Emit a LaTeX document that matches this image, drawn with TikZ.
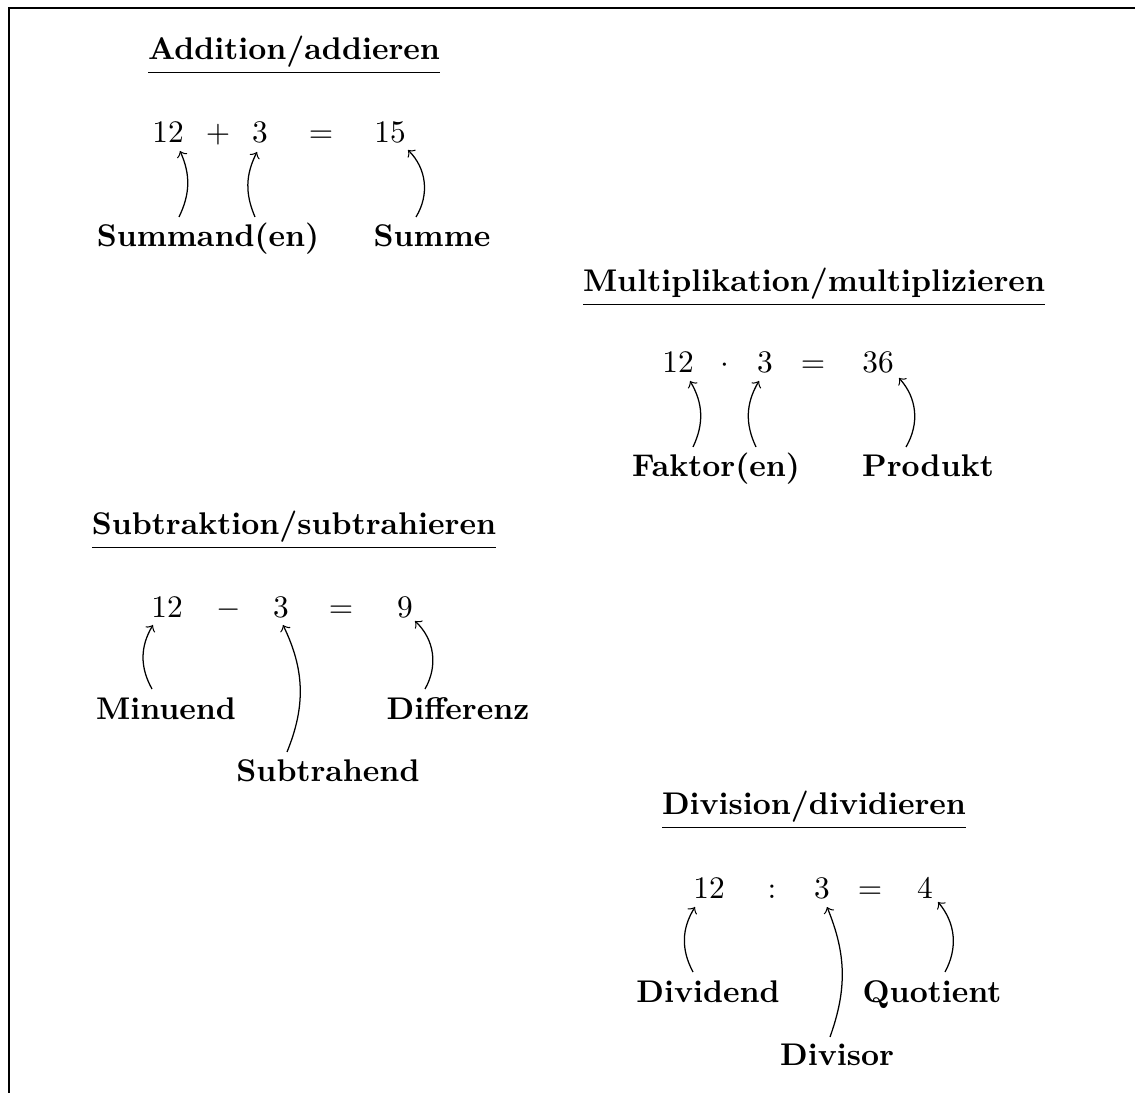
\documentclass[tikz,border=0pt]{standalone}
\usepackage{amsmath}
\usetikzlibrary{calc}
\begin{document}
\begin{tikzpicture}[x=0.319pt,y=-0.319pt,every node/.style={anchor=base},
  lab/.style={font=\bfseries},head/.style={font=\bfseries}]
  \useasboundingbox (0,0) rectangle (1135,1093);
  \draw (9,1093)--(9,8)--(1135,8);
  % Addition
  \node[head] (ta) at (294,60) {\underline{Addition/addieren}};
  \node (a1) at (168,143) {$12$};
  \node (ap) at (218,143) {$+$};
  \node (a2) at (260,143) {$3$};
  \node (ae) at (321,143) {$=$};
  \node (a3) at (390,143) {$15$};
  \node[lab] (sa) at (208,247) {Summand(en)};
  \node[lab] (ra) at (432,247) {Summe};
  \draw[->] ($(sa.base)+(-29,-30)$) to[bend right=25] ($(a1.base)+(12,8)$);
  \draw[->] ($(sa.base)+(47,-30)$) to[bend left=25] ($(a2.base)+(-3,9)$);
  \draw[->] ($(ra.base)+(-16,-30)$) to[bend right=38] ($(a3.base)+(18,7)$);
  % Multiplikation
  \node[head] (tm) at (814,292) {\underline{Multiplikation/multiplizieren}};
  \node (m1) at (678,373) {$12$};
  \node (mp) at (725,373) {$\cdot$};
  \node (m2) at (765,373) {$3$};
  \node (me) at (813,373) {$=$};
  \node (m3) at (878,373) {$36$};
  \node[lab] (sm) at (716,477) {Faktor(en)};
  \node[lab] (rm) at (928,477) {Produkt};
  \draw[->] ($(sm.base)+(-23,-30)$) to[bend right=28] ($(m1.base)+(12,8)$);
  \draw[->] ($(sm.base)+(40,-30)$) to[bend left=28] ($(m2.base)+(-6,8)$);
  \draw[->] ($(rm.base)+(-22,-30)$) to[bend right=36] ($(m3.base)+(21,5)$);
  % Subtraktion
  \node[head] (ts) at (294,535) {\underline{Subtraktion/subtrahieren}};
  \node (s1) at (167,618) {$12$};
  \node (sp) at (229,618) {$-$};
  \node (s2) at (281,618) {$3$};
  \node (se) at (341,618) {$=$};
  \node (s3) at (405,618) {$9$};
  \node[lab] (ss) at (166,720) {Minuend};
  \node[lab] (sd) at (328,781) {Subtrahend};
  \node[lab] (rs) at (458,720) {Differenz};
  \draw[->] ($(ss.base)+(-14,-31)$) to[bend left=30] ($(s1.base)+(-14,7)$);
  \draw[->] ($(sd.base)+(-41,-29)$) to[bend right=24] ($(s2.base)+(2,7)$);
  \draw[->] ($(rs.base)+(-33,-31)$) to[bend right=38] ($(s3.base)+(10,3)$);
  % Division
  \node[head] (td) at (814,815) {\underline{Division/dividieren}};
  \node (d1) at (709,898) {$12$};
  \node (dp) at (772,898) {$:$};
  \node (d2) at (822,898) {$3$};
  \node (de) at (870,898) {$=$};
  \node (d3) at (925,898) {$4$};
  \node[lab] (sv) at (708,1002) {Dividend};
  \node[lab] (dv) at (837,1065) {Divisor};
  \node[lab] (rd) at (932,1002) {Quotient};
  \draw[->] ($(sv.base)+(-15,-30)$) to[bend left=30] ($(d1.base)+(-14,9)$);
  \draw[->] ($(dv.base)+(-7,-28)$) to[bend right=21] ($(d2.base)+(5,9)$);
  \draw[->] ($(rd.base)+(13,-30)$) to[bend right=34] ($(d3.base)+(13,4)$);
\end{tikzpicture}
\end{document}
